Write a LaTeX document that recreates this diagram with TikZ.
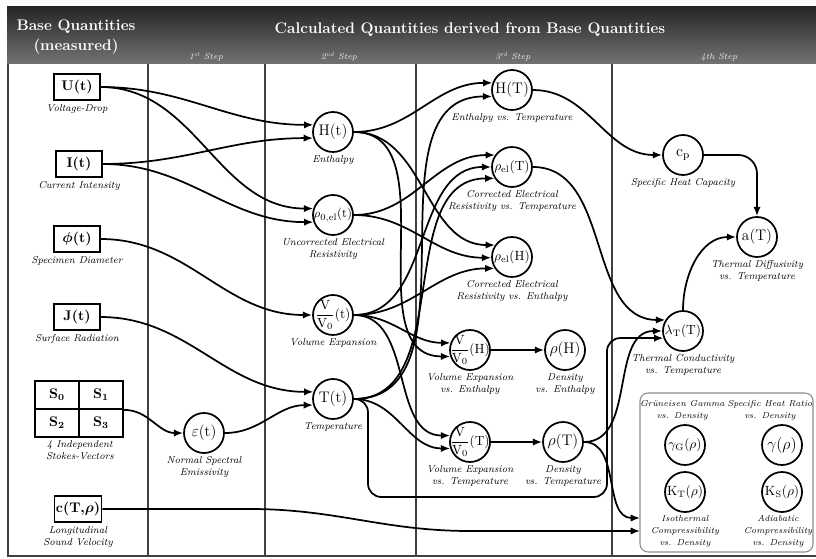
\documentclass[tikz,border=0pt]{standalone}
\usepackage{amsmath,amssymb}
\usepackage{bm}
\usetikzlibrary{arrows.meta,positioning}
\newcommand{\zw}[1]{\makebox[0pt]{#1}}

\begin{document}
\begin{tikzpicture}[x=0.75pt,y=-0.75pt,
  qbox/.style={draw,line width=1.3pt,minimum width=34pt,minimum height=20pt,inner sep=1pt,font=\fontsize{10.5}{12}\selectfont\bfseries},
  cell/.style={draw,line width=1.3pt,minimum width=33pt,minimum height=21pt,inner sep=0pt,font=\fontsize{10.5}{12}\selectfont\bfseries},
  qcirc/.style={circle,draw,line width=1.3pt,minimum size=30pt,inner sep=0pt,font=\fontsize{11.5}{13}\selectfont},
  qwide/.style={qcirc,font=\fontsize{10}{12}\selectfont},
  lbl/.style={inner sep=1pt,align=center,font=\fontsize{7.5}{9}\selectfont\itshape},
  glbl/.style={lbl,font=\fontsize{6.5}{9}\selectfont\itshape},
  flow/.style={line width=1.3pt,-{Latex[length=7pt,width=5.5pt]}},
  hdr/.style={text=white,align=center,font=\fontsize{11.5}{15}\selectfont\bfseries},
  stp/.style={text=white!92!black,font=\fontsize{6.5}{7}\selectfont\itshape},
  divider/.style={line width=1pt,black!75}]

\useasboundingbox (0,0) rectangle (816,559);
\shade[top color=black!85,bottom color=black!55] (7,7) rectangle (816,64);
\node[hdr] (base) at (76,37) {Base Quantities\\(measured)};
\node[hdr] (calc) at (470,30) {Calculated Quantities derived from Base Quantities};
\node[stp] (st1) at (206,57) {1\textsuperscript{st} Step};
\node[stp] (st2) at (339,57) {2\textsuperscript{nd} Step};
\node[stp] (st3) at (513,57) {3\textsuperscript{rd} Step};
\node[stp] (st4) at (719,57) {4th Step};

\draw[divider] (8,64) -- (8,556) -- (816,556);
\foreach \x in {148,265,416,612}
  \draw[divider] (\x,64) -- (\x,556);

\node[qbox] (U) at (77,87) {U(t)};
\node[lbl,below=1pt of U] (Ul) {Voltage-Drop};
\node[qbox] (I) at (79,164) {I(t)};
\node[lbl,below=1pt of I] (Il) {Current Intensity};
\node[qbox] (Phi) at (77,239) {$\bm{\phi}$(t)};
\node[lbl,below=1pt of Phi] (Phil) {Specimen Diameter};
\node[qbox] (J) at (77,317) {J(t)};
\node[lbl,below=1pt of J] (Jl) {Surface Radiation};
\node[cell] (S0) at (57,395) {S$_{\bm{0}}$};
\node[cell] (S1) at (101,395) {S$_{\bm{1}}$};
\node[cell] (S2) at (57,423) {S$_{\bm{2}}$};
\node[cell] (S3) at (101,423) {S$_{\bm{3}}$};
\node[lbl,below=1pt of S2.south east] (Sl) {4 Independent\\Stokes-Vectors};
\node[qbox] (cs) at (78,509) {c(T,$\bm{\rho}$)};
\node[lbl,below=1pt of cs] (csl) {Longitudinal\\Sound Velocity};

\node[qcirc] (eps) at (204,433) {$\varepsilon$(t)};
\node[lbl,below=1pt of eps] (epsl) {Normal Spectral\\Emissivity};

\node[qcirc] (Ht) at (333,132) {H(t)};
\node[lbl,below=1pt of Ht] (Htl) {Enthalpy};
\node[qwide,font=\fontsize{9.5}{11}\selectfont] (Rt) at (333,215) {\zw{$\rho_{0,\mathrm{el}}$(t)}};
\node[lbl,below=1pt of Rt] (Rtl) {Uncorrected Electrical\\Resistivity};
\node[qwide] (Vt) at (333,315) {\zw{$\dfrac{\mathrm{V}}{\mathrm{V}_0}$(t)}};
\node[lbl,below=1pt of Vt] (Vtl) {Volume Expansion};
\node[qcirc] (Tt) at (333,399) {T(t)};
\node[lbl,below=1pt of Tt] (Ttl) {Temperature};

\node[qcirc] (HT) at (512,90) {\zw{H(T)}};
\node[lbl,below=1pt of HT] (HTl) {Enthalpy vs. Temperature};
\node[qwide] (RT) at (512,167) {\zw{$\rho_{\mathrm{el}}$(T)}};
\node[lbl,below=1pt of RT] (RTl) {Corrected Electrical\\Resistivity vs. Temperature};
\node[qwide] (RH) at (512,257) {\zw{$\rho_{\mathrm{el}}$(H)}};
\node[lbl,below=1pt of RH] (RHl) {Corrected Electrical\\Resistivity vs. Enthalpy};
\node[qwide] (VH) at (470,350) {\zw{$\dfrac{\mathrm{V}}{\mathrm{V}_0}$(H)}};
\node[lbl,below=1pt of VH] (VHl) {Volume Expansion\\vs. Enthalpy};
\node[qcirc] (DH) at (565,350) {$\rho$(H)};
\node[lbl,below=1pt of DH] (DHl) {Density\\vs. Enthalpy};
\node[qwide] (VT) at (470,442) {\zw{$\dfrac{\mathrm{V}}{\mathrm{V}_0}$(T)}};
\node[lbl,below=1pt of VT] (VTl) {Volume Expansion\\vs. Temperature};
\node[qcirc] (DT) at (563,442) {$\rho$(T)};
\node[lbl,below=1pt of DT] (DTl) {Density\\vs. Temperature};

\node[qcirc] (cp) at (683,155) {$\mathrm{c}_{\mathrm{p}}$};
\node[lbl,below=1pt of cp] (cpl) {Specific Heat Capacity};
\node[qcirc] (aT) at (757,237) {a(T)};
\node[lbl,below=1pt of aT] (aTl) {Thermal Diffusivity\\vs. Temperature};
\node[qwide] (lT) at (683,331) {\zw{$\lambda_{\mathrm{T}}$(T)}};
\node[lbl,below=1pt of lT] (lTl) {Thermal Conductivity\\vs. Temperature};

\node[draw=black!45,line width=0.8pt,rounded corners=6pt,minimum width=129.75pt,minimum height=119.25pt] (grp) at (726.5,472.5) {};
\coordinate (kin) at (640,518);
\coordinate (cin) at (640,531);
\node[qwide] (gG) at (685,445) {\zw{$\gamma_{\mathrm{G}}(\rho)$}};
\node[glbl,above=2pt of gG,xshift=-2pt] (gGl) {Grüneisen Gamma\\vs. Density};
\node[qcirc] (gR) at (782,445) {$\gamma(\rho)$};
\node[glbl,above=2pt of gR,xshift=-9pt] (gRl) {Specific Heat Ratio\\vs. Density};
\node[qwide] (KT) at (685,492) {\zw{$\mathrm{K}_{\mathrm{T}}(\rho)$}};
\node[glbl,below=1pt of KT] (KTl) {Isothermal\\Compressibility\\vs. Density};
\node[qwide] (KS) at (782,492) {\zw{$\mathrm{K}_{\mathrm{S}}(\rho)$}};
\node[glbl,below=1pt of KS,xshift=-3pt] (KSl) {Adiabatic\\Compressibility\\vs. Density};

\draw[flow] (U.east) to[out=0,in=180] (Ht.160);
\draw[flow] (U.east) to[out=0,in=180] (Rt.162);
\draw[flow] (I.east) to[out=0,in=180] (Ht.197);
\draw[flow] (I.east) to[out=0,in=180] (Rt.200);
\draw[flow] (Phi.east) to[out=0,in=180] (Vt.west);
\draw[flow] (J.east) to[out=0,in=180] (Tt.160);
\draw[flow] (S1.south east) to[out=0,in=180] (eps.west);
\draw[flow] (eps.east) to[out=0,in=180] (Tt.197);

\draw[flow] (Ht.east) to[out=0,in=180] (HT.160);
\draw[flow] (Tt.east) to[out=0,in=180] (HT.198);
\draw[flow] (Rt.east) to[out=0,in=180] (RT.145);
\draw[flow] (Vt.east) to[out=0,in=180] (RT.180);
\draw[flow] (Tt.east) to[out=0,in=180] (RT.213);
\draw[flow] (Ht.east) to[out=0,in=180] (RH.145);
\draw[flow] (Rt.east) to[out=0,in=180] (RH.182);
\draw[flow] (Vt.east) to[out=0,in=180] (RH.213);
\draw[flow] (Vt.east) to[out=0,in=180] (VH.160);
\draw[flow] (Ht.east) to[out=0,in=180] (VH.198);
\draw[flow] (Vt.east) to[out=0,in=180] (VT.162);
\draw[flow] (Tt.east) to[out=0,in=180] (VT.198);
\draw[flow] (VH) -- (DH);
\draw[flow] (VT) -- (DT);

\draw[flow] (HT.east) to[out=0,in=180] (cp.west);
\draw[flow,rounded corners=14pt] (cp.east) -| (aT.north);
\draw[flow] (RT.east) to[out=0,in=180] (lT.148);
\draw[flow] (DT.east) to[out=0,in=180] (lT.180);
\draw[flow,rounded corners=10pt] (Tt.east) -| (368,497) -| (607,338) -- (lT.200);
\draw[flow] (lT.north) to[out=90,in=180] (aT.west);
\draw[flow] (DT.east) to[out=0,in=180] (kin);
\draw[flow] (cs.east) -- (250,509) to[out=0,in=180] (470,531) -- (cin);
\end{tikzpicture}
\end{document}
